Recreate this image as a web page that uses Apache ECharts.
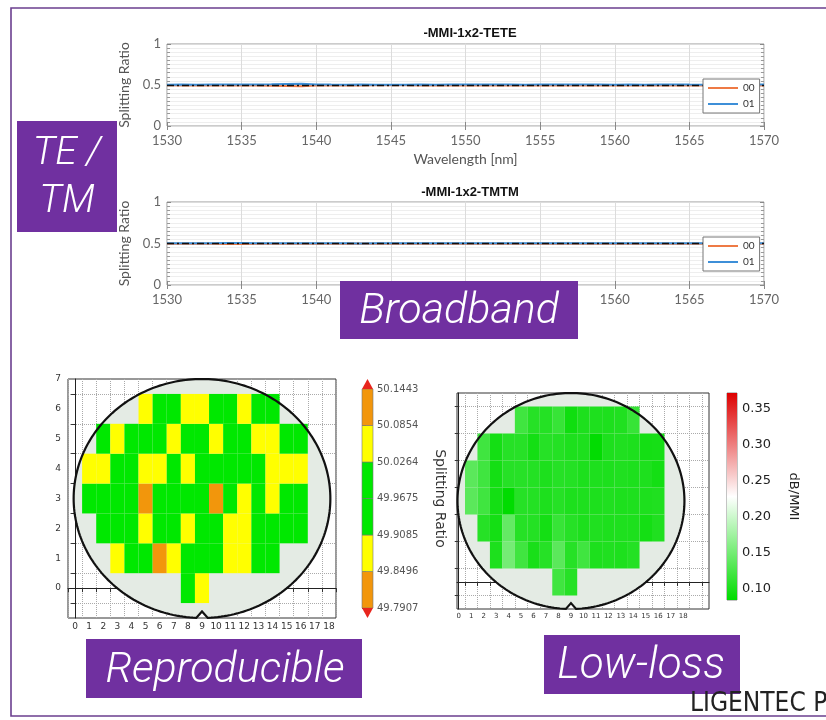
<!DOCTYPE html>
<html><head><meta charset="utf-8">
<script src="https://cdn.jsdelivr.net/npm/echarts@6/dist/echarts.min.js"></script>
<style>html,body{margin:0;padding:0;background:#fff}#c{width:826px;height:720px}</style>
</head><body><div id="c"></div>
<script>
// ---------- line charts (splitting ratio vs wavelength) ----------
const wavelength = [1530,1531,1532,1533,1534,1535,1536,1537,1538,1539,1540,1541,1542,1543,1544,1545,1546,1547,1548,1549,1550,1551,1552,1553,1554,1555,1556,1557,1558,1559,1560,1561,1562,1563,1564,1565,1566,1567,1568,1569,1570];
const teCh00 = [0.496,0.495,0.496,0.494,0.495,0.493,0.494,0.492,0.488,0.486,0.493,0.495,0.496,0.495,0.496,0.497,0.496,0.495,0.496,0.495,0.494,0.495,0.493,0.494,0.496,0.495,0.494,0.493,0.494,0.495,0.496,0.495,0.496,0.494,0.493,0.495,0.496,0.495,0.496,0.495,0.494];
const teCh01 = [0.504,0.505,0.504,0.506,0.505,0.507,0.506,0.508,0.512,0.514,0.507,0.505,0.504,0.505,0.504,0.503,0.504,0.505,0.504,0.505,0.506,0.505,0.507,0.506,0.504,0.505,0.506,0.507,0.506,0.505,0.504,0.505,0.504,0.506,0.507,0.505,0.504,0.505,0.504,0.505,0.506];
const tmCh00 = [0.498,0.497,0.498,0.496,0.495,0.494,0.496,0.497,0.498,0.497,0.498,0.497,0.498,0.499,0.498,0.497,0.498,0.497,0.496,0.497,0.496,0.497,0.498,0.497,0.498,0.497,0.498,0.497,0.496,0.497,0.498,0.497,0.498,0.497,0.496,0.497,0.498,0.497,0.498,0.497,0.496];
const tmCh01 = [0.502,0.503,0.502,0.504,0.505,0.506,0.504,0.503,0.502,0.503,0.502,0.503,0.502,0.501,0.502,0.503,0.502,0.503,0.504,0.503,0.504,0.503,0.502,0.503,0.502,0.503,0.502,0.503,0.504,0.503,0.502,0.503,0.502,0.503,0.504,0.503,0.502,0.503,0.502,0.503,0.504];
const refRatio = [0.5];
const wlRange = [1530, 1570];

// ---------- wafer maps ----------
const waferCols = [0,1,2,3,4,5,6,7,8,9,10,11,12,13,14,15,16,17,18];
const waferRows = [0,1,2,3,4,5,6,7];
const rowStart = [8,3,2,1,1,2,5];          // first die column of each row (row 0 .. 6)
const ratioRow0 = [49.95,50.05];
const ratioRow1 = [50.04,49.96,49.93,49.82,49.88,49.97,49.99,49.94,50.05,49.89,49.98,49.95];
const ratioRow2 = [49.97,49.94,50.00,50.04,49.96,49.93,49.88,49.99,49.95,50.06,49.89,49.97,50.01,49.94,49.96];
const ratioRow3 = [49.98,49.95,49.97,50.00,50.11,49.96,49.93,49.99,49.97,49.83,49.95,50.05,49.98,49.88,49.96,50.01];
const ratioRow4 = [50.05,49.88,49.96,49.99,50.04,49.89,49.97,50.06,49.94,49.98,50.00,49.95,49.97,50.04,49.87,50.05];
const ratioRow5 = [49.96,50.05,49.98,49.94,49.99,49.88,49.96,50.01,50.04,49.95,49.97,49.89,50.05,49.98,49.93];
const ratioRow6 = [50.04,49.97,49.95,49.88,50.05,49.99,49.94,50.06,49.96,49.98];
const lossRow0 = [0.120,0.105];
const lossRow1 = [0.100,0.150,0.120,0.098,0.105,0.135,0.105,0.120,0.100,0.102,0.100,0.104];
const lossRow2 = [0.105,0.095,0.140,0.105,0.104,0.095,0.115,0.105,0.100,0.102,0.100,0.101,0.100,0.095,0.102];
const lossRow3 = [0.135,0.120,0.095,0.082,0.105,0.104,0.100,0.105,0.100,0.101,0.100,0.102,0.100,0.101,0.100,0.102];
const lossRow4 = [0.135,0.120,0.095,0.105,0.106,0.104,0.100,0.105,0.104,0.100,0.101,0.100,0.102,0.100,0.101,0.095];
const lossRow5 = [0.120,0.095,0.105,0.106,0.095,0.105,0.104,0.100,0.101,0.085,0.100,0.102,0.100,0.095,0.096];
const lossRow6 = [0.120,0.105,0.104,0.115,0.092,0.100,0.101,0.100,0.102,0.115];
const waferOutline = [9, 3, 9.1, 4.0];   // centre col, centre row, radius in cols, radius in rows
const ratioBounds = [49.7907,49.8496,49.9085,49.9675,50.0264,50.0854,50.1443];
const ratioColors = ['#f2960c','#ffff00','#00e800','#00e800','#ffff00','#f2960c'];
const lossTicks = [0.10,0.15,0.20,0.25,0.30,0.35];
const lossRange = [0.0838, 0.3717];
const lossColors = ['#00dc00','#ffffff','#dd0000'];

// ---------- build ----------
const FP = 'Lato, "Noto Sans", sans-serif';
const FM = '"DejaVu Sans", sans-serif';
const ratioRows = [ratioRow0,ratioRow1,ratioRow2,ratioRow3,ratioRow4,ratioRow5,ratioRow6];
const lossRows = [lossRow0,lossRow1,lossRow2,lossRow3,lossRow4,lossRow5,lossRow6];
function cells(rows){ const d=[]; rows.forEach((arr,r)=>arr.forEach((v,i)=>d.push([rowStart[r]+i, r, v]))); return d; }
const pairs = (vals)=>wavelength.map((w,i)=>[w, vals[i]]);

const cellRender = (params, api) => {
  const x = api.value(0), y = api.value(1);
  const p0 = api.coord([x-0.5, y+0.5]), p1 = api.coord([x+0.5, y-0.5]);
  return {type:'rect', shape:{x:p0[0], y:p0[1], width:p1[0]-p0[0], height:p1[1]-p0[1]}, style:{fill: api.visual('color')}};
};
function waferPoints(api){
  const cx=api.value(0), cy=api.value(1), rx=api.value(2), ry=api.value(3);
  const d=0.045, pts=[];
  for(let k=0;k<=240;k++){ const a=-Math.PI/2 + d + (2*Math.PI-2*d)*k/240; pts.push(api.coord([cx+rx*Math.cos(a), cy+ry*Math.sin(a)])); }
  pts.push(api.coord([cx, cy-ry+0.22]));
  return pts;
}
const waferFill = (p, api)=>({type:'polygon', shape:{points:waferPoints(api)}, style:{fill:'#e4ebe4'}});
const waferLine = (p, api)=>({type:'polygon', shape:{points:waferPoints(api)}, style:{fill:'none', stroke:'#111', lineWidth:2.2}});

function lineGridAxes(gi){
  const x = [
    {gridIndex:gi, type:'value', min:wlRange[0], max:wlRange[1], interval:5, position:'bottom',
     axisLine:{show:false}, axisTick:{inside:true, length:4, lineStyle:{color:'#888'}},
     axisLabel:{fontFamily:FP, fontSize:13, color:'#666', margin:8, formatter:(v)=>String(v)},
     splitLine:{show:true, lineStyle:{color:'#dcdcdc'}},
     name: 'Wavelength [nm]', nameLocation:'middle', nameGap:26, nameTextStyle:{fontFamily:FP, fontSize:14, color:'#555'}},
    {gridIndex:gi, type:'value', min:wlRange[0], max:wlRange[1], interval:5, position:'top',
     axisLine:{show:false}, axisTick:{inside:true, length:4, lineStyle:{color:'#888'}}, axisLabel:{show:false}, splitLine:{show:false}}
  ];
  const yb = {type:'value', min:0, max:1, interval:0.5, axisLine:{show:false},
     axisTick:{inside:true, length:4, lineStyle:{color:'#888'}},
     minorTick:{show:true, splitNumber:10, length:3, lineStyle:{color:'#999'}}};
  const y = [
    Object.assign({gridIndex:gi, position:'left', axisLabel:{fontFamily:FP, fontSize:13, color:'#666', margin:6},
      splitLine:{show:true, lineStyle:{color:'#dcdcdc'}}, minorSplitLine:{show:true, lineStyle:{color:'#eeeeee'}},
      name:'Splitting Ratio', nameLocation:'middle', nameGap:30, nameTextStyle:{fontFamily:FP, fontSize:14, color:'#555'}}, yb),
    Object.assign({gridIndex:gi, position:'right', axisLabel:{show:false}, splitLine:{show:false}}, yb)
  ];
  return {x, y};
}
const g0 = lineGridAxes(0), g1 = lineGridAxes(1);

function waferX(gi, min, max, fs, edges){
  return {gridIndex:gi, type:'value', min, max,
    axisLine:{lineStyle:{color:'#222'}},
    axisLabel:{customValues:waferCols, fontFamily:FM, fontSize:fs, color:'#333', margin:4},
    axisTick:{customValues:edges, length:4, lineStyle:{color:'#333'}},
    splitLine:{show:true, lineStyle:{type:'dotted', color:'#aaa'}}};
}
function waferY(gi, showLabels){
  return {gridIndex:gi, type:'value', min:-1, max:7, interval:1,
    axisLine:{lineStyle:{color:'#222'}},
    axisLabel:{show:showLabels, customValues:waferRows, fontFamily:FM, fontSize:9, color:'#333', margin:7},
    axisTick:{show:false}, splitLine:{show:false},
    minorTick:{show:true, splitNumber:2, length:4, lineStyle:{color:'#333'}},
    minorSplitLine:{show:true, lineStyle:{type:'dotted', color:'#aaa'}}};
}
const leftEdges = waferCols.map(c=>c-0.5).concat([18.5]);
const rightEdges = waferCols.map(c=>c+0.5).concat([19.5]);

const ratioLine = (name, vals, color, xi, yi, ref) => {
  const s = {name, type:'line', xAxisIndex:xi, yAxisIndex:yi, data:pairs(vals), symbol:'none', showSymbol:false,
    lineStyle:{width:2, color}, itemStyle:{color}, z:3};
  if (ref) s.markLine = {silent:true, symbol:['none','none'], label:{show:false},
    lineStyle:{color:'#111', type:[7,3,2,3], width:1.3}, data:refRatio.map(v=>({yAxis:v})), z:5};
  return s;
};
const legendBase = {data:['00','01'], orient:'vertical', left:703, icon:'rect', itemWidth:30, itemHeight:2, itemGap:6, padding:[4,5,4,5], z:20,
     backgroundColor:'#fff', borderColor:'#777', borderWidth:1, textStyle:{fontFamily:FP, fontSize:10, color:'#333'}};

const option = {
  animation:false,
  backgroundColor:'#fff',
  title:[
    {text:'-MMI-1x2-TETE', left:465, top:22, textAlign:'center', textStyle:{fontFamily:'"Liberation Sans", Arial', fontWeight:'bold', fontSize:13, color:'#111'}},
    {text:'-MMI-1x2-TMTM', left:465, top:181, textAlign:'center', textStyle:{fontFamily:'"Liberation Sans", Arial', fontWeight:'bold', fontSize:13, color:'#111'}}
  ],
  legend:[
    Object.assign({top:79}, legendBase),
    Object.assign({top:237}, legendBase)
  ],
  grid:[
    {left:167, top:44, width:597, height:82, show:true, borderColor:'#999', borderWidth:1},
    {left:167, top:202, width:597, height:83, show:true, borderColor:'#999', borderWidth:1},
    {left:68, top:379, width:268, height:239, show:true, borderColor:'#333', borderWidth:1},
    {left:362, top:389, width:11, height:219},
    {left:457, top:393, width:252, height:216, show:true, borderColor:'#333', borderWidth:1},
    {left:727, top:393, width:10, height:207, show:true, borderColor:'#888', borderWidth:1}
  ],
  xAxis:[
    g0.x[0], g0.x[1], g1.x[0], g1.x[1],
    waferX(2, -0.5, 18.5, 9, leftEdges),
    {gridIndex:3, type:'value', min:0, max:1, show:false},
    waferX(4, -0.14, 20.07, 7, rightEdges),
    {gridIndex:5, type:'value', min:0, max:1, show:false}
  ],
  yAxis:[
    g0.y[0], g0.y[1], g1.y[0], g1.y[1],
    waferY(2, true),
    {gridIndex:3, type:'category', data:ratioBounds.map(v=>v.toFixed(4)), boundaryGap:false, position:'right',
     axisLine:{show:false}, axisTick:{length:4, lineStyle:{color:'#444'}},
     axisLabel:{fontFamily:FM, fontSize:10, color:'#555', margin:4},
     name:'Splitting Ratio', nameLocation:'middle', nameRotate:-90, nameGap:60, nameTextStyle:{fontFamily:FM, fontSize:14, color:'#333'}},
    waferY(4, false),
    {gridIndex:5, type:'value', min:lossRange[0], max:lossRange[1], position:'right',
     axisLine:{show:false}, splitLine:{show:false},
     axisTick:{customValues:lossTicks, length:4, lineStyle:{color:'#333'}},
     axisLabel:{customValues:lossTicks, formatter:(v)=>Number(v).toFixed(2), fontFamily:FM, fontSize:13, color:'#222', margin:5},
     name:'dB/MMI', nameLocation:'middle', nameRotate:-90, nameGap:50, nameTextStyle:{fontFamily:FM, fontSize:13, color:'#222'}}
  ],
  visualMap:[
    {type:'piecewise', show:false, seriesIndex:5, dimension:2,
     pieces: ratioColors.map((c,i)=>({gte:ratioBounds[i], lt:ratioBounds[i+1], color:c}))},
    {type:'continuous', show:false, seriesIndex:9, dimension:2, min:lossRange[0], max:lossRange[1], inRange:{color:lossColors}}
  ],
  series:[
    ratioLine('00', teCh00, '#ee7a45', 0, 0, false),
    ratioLine('01', teCh01, '#3d8fd8', 0, 0, true),
    ratioLine('00', tmCh00, '#ee7a45', 2, 2, false),
    ratioLine('01', tmCh01, '#3d8fd8', 2, 2, true),
    {type:'custom', xAxisIndex:4, yAxisIndex:4, data:[waferOutline], renderItem:waferFill, z:1, silent:true},
    {type:'custom', xAxisIndex:4, yAxisIndex:4, data:cells(ratioRows), renderItem:cellRender, z:2},
    {type:'custom', xAxisIndex:4, yAxisIndex:4, data:[waferOutline], renderItem:waferLine, z:3, silent:true},
    {type:'custom', xAxisIndex:5, yAxisIndex:5, data:ratioColors.map((c,i)=>[i]), z:2,
     renderItem:(p, api)=>{
       const i = api.value(0);
       const a = api.coord([0, i]), b = api.coord([1, i+1]);
       const ch = [{type:'rect', shape:{x:a[0], y:b[1], width:b[0]-a[0], height:a[1]-b[1]}, style:{fill:ratioColors[i], stroke:'#777', lineWidth:0.6}}];
       const w = b[0]-a[0];
       if (i === ratioColors.length-1) ch.push({type:'polygon', shape:{points:[[b[0]-w, b[1]], [b[0], b[1]], [b[0]-w/2, b[1]-10]]}, style:{fill:'#e8251d'}});
       if (i === 0) ch.push({type:'polygon', shape:{points:[[a[0], a[1]], [a[0]+w, a[1]], [a[0]+w/2, a[1]+10]]}, style:{fill:'#e8251d'}});
       return {type:'group', children:ch};
     }},
    {type:'custom', xAxisIndex:6, yAxisIndex:6, data:[waferOutline], renderItem:waferFill, z:1, silent:true},
    {type:'custom', xAxisIndex:6, yAxisIndex:6, data:cells(lossRows), renderItem:cellRender, z:2},
    {type:'custom', xAxisIndex:6, yAxisIndex:6, data:[waferOutline], renderItem:waferLine, z:3, silent:true},
    {type:'custom', xAxisIndex:7, yAxisIndex:7, data:[[0, lossRange[0], lossRange[1]]], z:2,
     renderItem:(p, api)=>{
       const a = api.coord([0, api.value(1)]), b = api.coord([1, api.value(2)]);
       return {type:'rect', shape:{x:a[0], y:b[1], width:b[0]-a[0], height:a[1]-b[1]},
         style:{fill:new echarts.graphic.LinearGradient(0,1,0,0,[{offset:0,color:lossColors[0]},{offset:0.5,color:lossColors[1]},{offset:1,color:lossColors[2]}])}};
     }}
  ],
  graphic:[
    {type:'rect', z:100, shape:{x:11, y:8, width:830, height:708}, style:{fill:'none', stroke:'#6b3f8f', lineWidth:1.6}},
    {type:'rect', z:100, shape:{x:17, y:121, width:100, height:111}, style:{fill:'#7030a0'}},
    {type:'text', z:101, x:67, y:178, style:{text:'TE /\nTM', fontFamily:'Roboto', fontStyle:'italic', fontWeight:300, fontSize:39, lineHeight:48, fill:'#fff', textAlign:'center', textVerticalAlign:'middle'}},
    {type:'rect', z:100, shape:{x:340, y:281, width:238, height:58}, style:{fill:'#7030a0'}},
    {type:'text', z:101, x:459, y:312, style:{text:'Broadband', fontFamily:'Roboto', fontStyle:'italic', fontWeight:300, fontSize:43, fill:'#fff', textAlign:'center', textVerticalAlign:'middle'}},
    {type:'rect', z:100, shape:{x:86, y:639, width:276, height:59}, style:{fill:'#7030a0'}},
    {type:'text', z:101, x:225, y:671, style:{text:'Reproducible', fontFamily:'Roboto', fontStyle:'italic', fontWeight:300, fontSize:43, fill:'#fff', textAlign:'center', textVerticalAlign:'middle'}},
    {type:'rect', z:100, shape:{x:544, y:635, width:196, height:59}, style:{fill:'#7030a0'}},
    {type:'text', z:101, x:641, y:667, style:{text:'Low-loss', fontFamily:'Roboto', fontStyle:'italic', fontWeight:300, fontSize:44, fill:'#fff', textAlign:'center', textVerticalAlign:'middle'}},
    {type:'text', z:101, x:690, y:704, style:{text:'LIGENTEC P', fontFamily:'"Liberation Sans Narrow", "DejaVu Sans Condensed", sans-serif', fontSize:26, fill:'#222', textAlign:'left', textVerticalAlign:'middle'}}
  ]
};
const chart = echarts.init(document.getElementById('c'));
chart.setOption(option);
</script>
</body></html>
